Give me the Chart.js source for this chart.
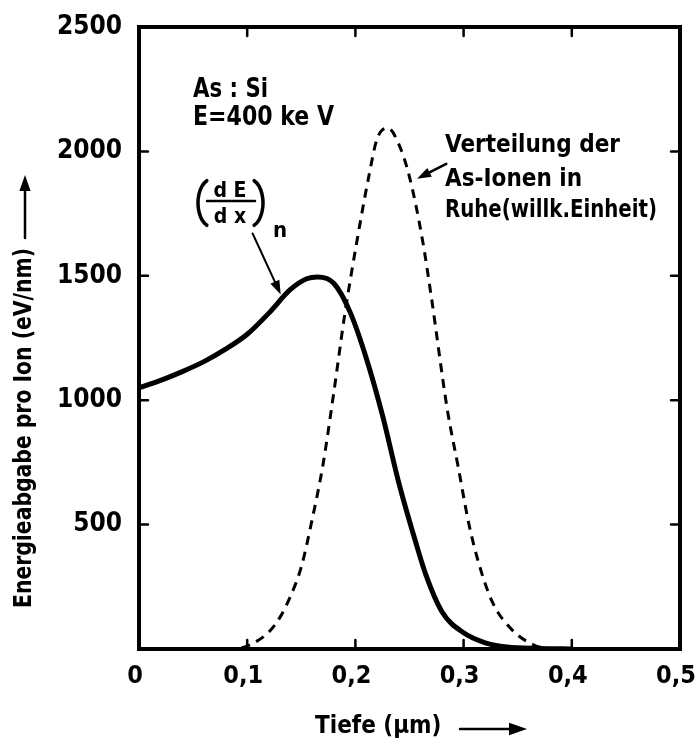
<!DOCTYPE html>
<html>
<head>
<meta charset="utf-8">
<script src="https://cdn.jsdelivr.net/npm/chart.js@4.4.1/dist/chart.umd.min.js"></script>
<style>
  html, body { margin: 0; padding: 0; background: #fff; }
  canvas { display: block; }
</style>
</head>
<body>
<canvas id="chart" width="695" height="742"></canvas>
<script>
const FONT = '"DejaVu Sans Condensed", "Liberation Sans Narrow", sans-serif';

/* (dE/dx)n - nukleare Energieabgabe */
const depthSolid  = [0, 0.02, 0.04, 0.06, 0.08, 0.10, 0.12, 0.14, 0.155, 0.165, 0.18, 0.195, 0.21, 0.225, 0.24, 0.255, 0.265, 0.28, 0.30, 0.32, 0.34, 0.37, 0.40];
const energySolid = [1050, 1080, 1115, 1155, 1205, 1265, 1350, 1445, 1488, 1495, 1470, 1355, 1170, 940, 670, 440, 300, 150, 65, 25, 8, 2, 0];

/* Verteilung der As-Ionen in Ruhe */
const depthDashed  = [0.08, 0.095, 0.105, 0.12, 0.13, 0.14, 0.15, 0.16, 0.17, 0.18, 0.19, 0.20, 0.213, 0.22, 0.23, 0.24, 0.25, 0.262, 0.27, 0.285, 0.295, 0.305, 0.315, 0.327, 0.345, 0.365, 0.38];
const energyDashed = [0, 5, 22, 68, 125, 212, 330, 520, 740, 1030, 1340, 1604, 1913, 2050, 2094, 2030, 1897, 1644, 1420, 961, 732, 500, 330, 185, 76, 16, 0];

const xTickValues = [0.1, 0.2, 0.3, 0.4];
const yTickValues = [500, 1000, 1500, 2000];

function toPoints(xs, ys) {
  return xs.map((x, i) => ({ x: x, y: ys[i] }));
}

function arrow(ctx, x1, y1, x2, y2, head) {
  const a = Math.atan2(y2 - y1, x2 - x1);
  ctx.beginPath();
  ctx.moveTo(x1, y1);
  ctx.lineTo(x2 - Math.cos(a) * head * 0.6, y2 - Math.sin(a) * head * 0.6);
  ctx.stroke();
  ctx.beginPath();
  ctx.moveTo(x2, y2);
  ctx.lineTo(x2 - head * Math.cos(a) + head * 0.35 * Math.sin(a), y2 - head * Math.sin(a) - head * 0.35 * Math.cos(a));
  ctx.lineTo(x2 - head * Math.cos(a) - head * 0.35 * Math.sin(a), y2 - head * Math.sin(a) + head * 0.35 * Math.cos(a));
  ctx.closePath();
  ctx.fill();
}

/* Rahmen, innere Striche und Beschriftung */
const framePlugin = {
  id: 'frame',
  afterDraw(chart) {
    const ctx = chart.ctx;
    const a = chart.chartArea;
    const xs = chart.scales.x;
    const ys = chart.scales.y;
    ctx.save();
    ctx.strokeStyle = '#000';
    ctx.fillStyle = '#000';
    ctx.lineCap = 'round';

    // frame
    ctx.lineWidth = 4;
    ctx.strokeRect(a.left, a.top, a.right - a.left, a.bottom - a.top);

    // inward ticks
    ctx.lineWidth = 2.5;
    xTickValues.forEach((v) => {
      const px = xs.getPixelForValue(v);
      ctx.beginPath();
      ctx.moveTo(px, a.bottom); ctx.lineTo(px, a.bottom - 9);
      ctx.moveTo(px, a.top); ctx.lineTo(px, a.top + 9);
      ctx.stroke();
    });
    yTickValues.forEach((v) => {
      const py = ys.getPixelForValue(v);
      ctx.beginPath();
      ctx.moveTo(a.left, py); ctx.lineTo(a.left + 9, py);
      ctx.moveTo(a.right, py); ctx.lineTo(a.right - 9, py);
      ctx.stroke();
    });

    // axis titles
    ctx.font = 'bold 24px ' + FONT;
    ctx.textBaseline = 'middle';
    ctx.textAlign = 'left';
    ctx.save();
    ctx.translate(25, 608);
    ctx.rotate(-Math.PI / 2);
    ctx.fillText('Energieabgabe pro Ion (eV/nm)', 0, 0, 360);
    ctx.restore();
    ctx.lineWidth = 2.5;
    arrow(ctx, 25, 238, 25, 175, 16);

    ctx.fillText('Tiefe (\u00b5m)', 315, 727, 134);
    arrow(ctx, 460, 729, 527, 729, 18);

    // As : Si
    ctx.textBaseline = 'alphabetic';
    ctx.font = 'bold 26px ' + FONT;
    ctx.fillText('As : Si', 193, 97, 75);
    ctx.fillText('E=400 ke V', 193, 125, 141);

    // (dE/dx)n
    ctx.lineWidth = 3.5;
    ctx.beginPath();
    ctx.ellipse(212, 203, 14, 24, 0, 0.62 * Math.PI, 1.38 * Math.PI);
    ctx.stroke();
    ctx.beginPath();
    ctx.ellipse(249, 203, 14, 24, 0, -0.38 * Math.PI, 0.38 * Math.PI);
    ctx.stroke();
    ctx.font = 'bold 21px ' + FONT;
    ctx.textAlign = 'center';
    ctx.fillText('d E', 230, 197);
    ctx.fillText('d x', 230, 223);
    ctx.font = 'bold 22px ' + FONT;
    ctx.fillText('n', 280, 237);
    ctx.lineWidth = 2.5;
    ctx.beginPath();
    ctx.moveTo(207, 201); ctx.lineTo(255, 201);
    ctx.stroke();
    ctx.lineWidth = 2;
    arrow(ctx, xs.getPixelForValue(0.105), ys.getPixelForValue(1670), xs.getPixelForValue(0.131), ys.getPixelForValue(1425), 14);

    // Verteilung der As-Ionen
    ctx.textAlign = 'left';
    ctx.font = 'bold 24px ' + FONT;
    ctx.fillText('Verteilung der', 445, 152, 180);
    ctx.fillText('As-Ionen in', 445, 186, 170);
    ctx.fillText('Ruhe(willk.Einheit)', 445, 217, 212);
    ctx.lineWidth = 2.5;
    arrow(ctx, xs.getPixelForValue(0.284), ys.getPixelForValue(1950), xs.getPixelForValue(0.257), ys.getPixelForValue(1890), 14);

    ctx.restore();
  }
};

new Chart(document.getElementById('chart'), {
  type: 'line',
  data: {
    datasets: [{
      label: '(dE/dx)n',
      data: toPoints(depthSolid, energySolid),
      borderColor: '#000',
      borderWidth: 5,
      pointRadius: 0,
      cubicInterpolationMode: 'monotone',
      fill: false
    }, {
      label: 'Verteilung der As-Ionen in Ruhe',
      data: toPoints(depthDashed, energyDashed),
      borderColor: '#000',
      borderWidth: 3,
      borderDash: [9, 7],
      pointRadius: 0,
      cubicInterpolationMode: 'monotone',
      fill: false
    }]
  },
  options: {
    responsive: false,
    animation: false,
    layout: { padding: { top: 27, right: 15, left: 0, bottom: 0 } },
    plugins: {
      legend: { display: false },
      tooltip: { enabled: false }
    },
    scales: {
      x: {
        type: 'linear',
        min: 0,
        max: 0.5,
        grid: { display: false, drawTicks: false },
        border: { display: false },
        ticks: {
          stepSize: 0.1,
          padding: 12,
          labelOffset: -4,
          color: '#000',
          font: { family: FONT, size: 25, weight: 'bold' },
          callback: (v) => (v === 0 ? '0' : v.toFixed(1).replace('.', ','))
        },
        afterFit: (s) => { s.height = 93; s.paddingLeft = 0; s.paddingRight = 0; }
      },
      y: {
        min: 0,
        max: 2500,
        grid: { display: false, drawTicks: false },
        border: { display: false },
        ticks: {
          stepSize: 500,
          padding: 17,
          color: '#000',
          font: { family: FONT, size: 26, weight: 'bold' },
          callback: (v) => (v === 0 ? '' : v)
        },
        afterFit: (s) => { s.width = 139; s.paddingTop = 0; s.paddingBottom = 0; }
      }
    }
  },
  plugins: [framePlugin]
});
</script>
</body>
</html>
